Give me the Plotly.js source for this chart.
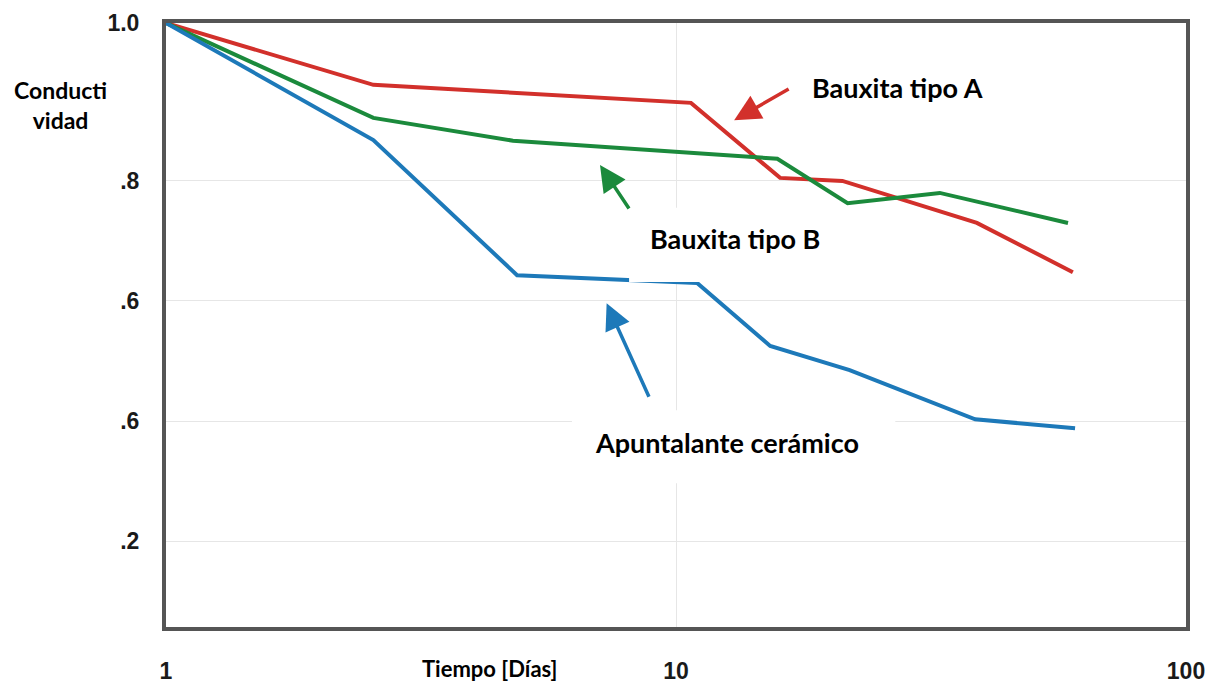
<!DOCTYPE html>
<html>
<head>
<meta charset="utf-8">
<script src="https://cdn.plot.ly/plotly-3.0.1.min.js"></script>
<style>html,body{margin:0;padding:0;background:#fff;}#chart{width:1213px;height:685px;}</style>
</head>
<body>
<div id="chart"></div>
<script>
// Data
const daysA = [1, 2.55, 10.7, 16.0, 21.2, 38.9, 60.0];
const condA = [1.063, 0.96, 0.93, 0.805, 0.80, 0.73, 0.648];

const daysB = [1, 2.55, 4.79, 15.8, 21.7, 32.9, 58.7];
const condB = [1.063, 0.905, 0.867, 0.837, 0.763, 0.78, 0.73];

const daysC = [1, 2.55, 4.88, 11.0, 15.3, 21.9, 38.6, 60.6];
const condC = [1.063, 0.868, 0.643, 0.63, 0.525, 0.485, 0.403, 0.388];

const seriesNames = ["Bauxita tipo A", "Bauxita tipo B", "Apuntalante cerámico"];
const xTickVals = [1, 10, 100];
const xTickText = ["1", "10", "100"];
const yTickVals = [0.2, 0.4, 0.6, 0.8, 1.063];
const yTickText = [".2", ".6", ".6", ".8", "1.0"];

const RED = "#d2302b", GREEN = "#1b8a3c", BLUE = "#1d79b9";
const tickFont = {family: "Liberation Sans, Arial, sans-serif", size: 23, color: "#1a1a1a", weight: 700};
const textFont = {family: "Lato, sans-serif", size: 27, color: "#000", weight: 700};

const traces = [
  {x: daysA, y: condA, name: seriesNames[0], mode: "lines", line: {color: RED, width: 4}},
  {x: daysB, y: condB, name: seriesNames[1], mode: "lines", line: {color: GREEN, width: 4}},
  {x: daysC, y: condC, name: seriesNames[2], mode: "lines", line: {color: BLUE, width: 4}}
];

const arrow = (x, y, ax, ay, c) => ({xref: "paper", yref: "paper", x: x, y: y, ax: ax, ay: ay,
  text: "", showarrow: true, arrowhead: 2, arrowsize: 1.5, arrowwidth: 3.5, arrowcolor: c, standoff: 0});
const label = (x, y, t, f) => ({xref: "paper", yref: "paper", x: x, y: y, text: t, showarrow: false,
  xanchor: "center", yanchor: "middle", align: "center", font: f});

const layout = {
  width: 1213, height: 685,
  margin: {l: 166, r: 27, t: 23, b: 58},
  paper_bgcolor: "#fff", plot_bgcolor: "#fff",
  showlegend: false,
  xaxis: {type: "log", range: [0, 2], tickvals: xTickVals, ticktext: xTickText,
    showgrid: true, gridcolor: "#e6e6e6", gridwidth: 1,
    showline: true, mirror: true, linecolor: "#555", linewidth: 4,
    ticks: "", ticklabelstandoff: 20, tickfont: tickFont, zeroline: false},
  yaxis: {range: [0.057, 1.063], tickvals: yTickVals, ticktext: yTickText,
    showgrid: true, gridcolor: "#e6e6e6", gridwidth: 1,
    showline: true, mirror: true, linecolor: "#555", linewidth: 4,
    ticks: "", ticklabelstandoff: 18, tickfont: tickFont, zeroline: false},
  shapes: [
    {type: "rect", xref: "paper", yref: "paper", x0: 0.454, x1: 0.736, y0: 0.571, y1: 0.694,
      fillcolor: "#fff", line: {width: 0}, layer: "above"},
    {type: "rect", xref: "paper", yref: "paper", x0: 0.398, x1: 0.715, y0: 0.238, y1: 0.359,
      fillcolor: "#fff", line: {width: 0}, layer: "above"}
  ],
  annotations: [
    arrow(0.557, 0.839, 56, -32, RED),
    arrow(0.4255, 0.765, 30, 45, GREEN),
    arrow(0.432, 0.536, 43, 95, BLUE),
    label(0.717, 0.894, seriesNames[0], textFont),
    label(0.558, 0.644, seriesNames[1], textFont),
    label(0.55, 0.306, seriesNames[2], textFont),
    label((489 - 166) / 1020, (627 - 668) / 604, "Tiempo [Días]",
      {family: "Lato, sans-serif", size: 22, color: "#000", weight: 700}),
    label((60 - 166) / 1020, (627 - 105) / 604, "Conducti<br>vidad",
      {family: "Lato, sans-serif", size: 23, color: "#000", weight: 700})
  ]
};

Plotly.newPlot("chart", traces, layout, {displayModeBar: false, staticPlot: true});
</script>
</body>
</html>
